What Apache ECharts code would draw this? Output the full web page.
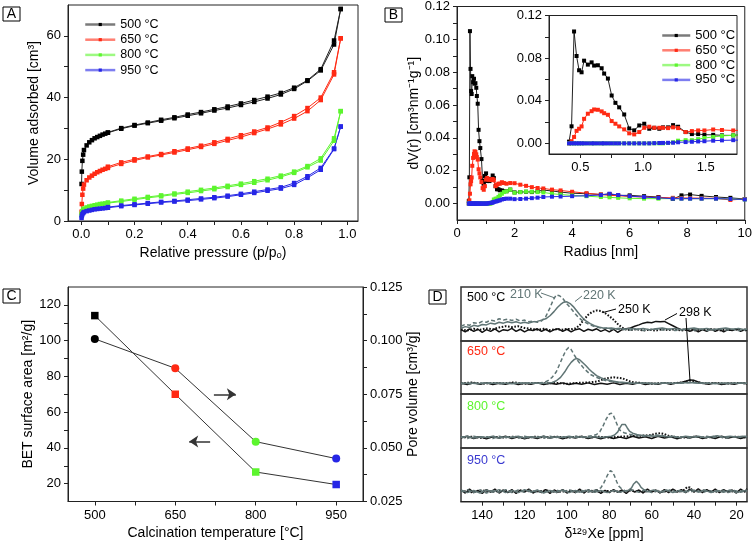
<!DOCTYPE html>
<html><head><meta charset="utf-8">
<script src="https://cdn.jsdelivr.net/npm/echarts@6/dist/echarts.min.js"></script>
<style>html,body{margin:0;padding:0;background:#fff}#c{width:755px;height:544px}</style>
</head><body><div id="c"></div>
<script>
// ---------- Panel A: N2 isotherms ----------
const tempNames = ['500 °C','650 °C','800 °C','950 °C'];
const tempColors = ['#000000','#ff2a14','#5cf52e','#2626e6'];
const lineColors = ['#222222','#ff2a14','#5cf52e','#2626e6'];
const pAds = [0.001,0.002,0.004,0.007,0.01,0.02,0.03,0.04,0.05,0.06,0.07,0.08,0.09,0.1,0.15,0.2,0.25,0.3,0.35,0.4,0.45,0.5,0.55,0.6,0.65,0.7,0.75,0.8,0.85,0.9,0.95,0.975];
const pDes = [0.975,0.95,0.9,0.85,0.8,0.75,0.7,0.65,0.6,0.55,0.5,0.45,0.4,0.35,0.3,0.25,0.2,0.15,0.1];
const ads500 = [12,16,19.5,21.5,23,24.5,25.5,26.2,26.8,27.2,27.6,28,28.3,28.6,29.9,30.9,31.7,32.5,33.3,34.1,34.9,35.8,36.6,37.6,38.6,39.7,41.0,42.8,45.4,48.8,57.2,68.7];
const des500 = [68.7,58.5,49.2,45.6,43.2,41.5,40.3,39.2,38.1,37.1,36.2,35.3,34.5,33.6,32.8,31.9,31.1,30.1,28.7];
const ads650 = [3,5.5,8.5,10.5,11.8,13.2,14.1,14.7,15.3,15.8,16.2,16.6,16.9,17.2,18.5,19.6,20.6,21.4,22.2,23.1,24.0,25.0,26.1,27.2,28.5,29.8,31.3,33.2,35.6,39.2,47.5,59.2];
const des650 = [59.2,48.2,40.0,36.6,34.0,32.0,30.3,29.0,27.8,26.6,25.5,24.4,23.5,22.6,21.7,20.9,20.0,19.0,17.6];
const ads800 = [2,2.6,3.2,3.7,4.0,4.4,4.7,4.9,5.1,5.3,5.5,5.6,5.7,5.8,6.3,6.9,7.5,8.0,8.6,9.1,9.7,10.3,11.0,11.7,12.4,13.2,14.3,15.6,17.4,19.6,26.0,35.6];
const des800 = [35.6,26.8,20.3,17.8,16.0,14.7,13.7,12.9,12.1,11.4,10.7,10.1,9.5,8.9,8.3,7.8,7.2,6.6,6.0];
const ads950 = [1,1.6,2.2,2.6,2.9,3.2,3.4,3.6,3.8,3.9,4.0,4.1,4.2,4.3,4.8,5.2,5.6,6.0,6.3,6.6,7.0,7.4,7.9,8.5,9.1,9.8,10.5,11.7,14.0,16.6,23.3,30.6];
const des950 = [30.6,23.5,17.2,14.5,12.3,10.9,10.2,9.5,8.8,8.2,7.7,7.3,6.9,6.5,6.2,5.8,5.4,5.0,4.5];
const xTicksA = [0,0.2,0.4,0.6,0.8,1.0];
const xMinorA = [0,0.1,0.2,0.3,0.4,0.5,0.6,0.7,0.8,0.9,1.0];
const yTicksA = [0,20,40,60];
const yMinorA = [0,10,20,30,40,50,60];

// ---------- Panel B: pore size distribution ----------
const rB = [0.41,0.43,0.45,0.47,0.49,0.51,0.53,0.56,0.59,0.61,
  0.64,0.67,0.69,0.72,0.75,0.78,0.81,0.85,0.89,0.93,
  0.97,1.01,1.05,1.09,1.13,1.16,1.2,1.24,1.28,1.34,
  1.39,1.44,1.49,1.56,1.63,1.72,1.85,2.0,2.2,2.4,
  2.6,2.8,3.0,3.3,3.6,4.0,4.5,5.0,5.3,5.6,
  6.0,6.5,7.0,7.5,7.8,8.1,8.5,9.0,9.5,10.0];
const vB500 = [0.0016,0.016,0.105,0.082,0.0686,0.0667,0.0776,0.0739,0.076,0.073,
  0.0733,0.0705,0.0655,0.0608,0.0449,0.038,0.0338,0.0271,0.014,0.0122,
  0.0168,0.0184,0.0137,0.0146,0.0137,0.015,0.015,0.0171,0.0156,0.0106,
  0.0087,0.0087,0.0081,0.008,0.0075,0.0075,0.0085,0.0068,0.007,0.0072,
  0.007,0.0075,0.0082,0.0077,0.007,0.0063,0.006,0.0055,0.0058,0.005,
  0.005,0.0045,0.004,0.0028,0.005,0.0055,0.0047,0.004,0.0035,0.0028];
const vB650 = [0,0.002,0.006,0.0117,0.0137,0.0159,0.023,0.0278,0.0302,0.0318,
  0.0315,0.030,0.0283,0.0268,0.0209,0.0184,0.0159,0.0131,0.0094,0.0084,
  0.0106,0.0146,0.0156,0.0146,0.0146,0.0146,0.0143,0.015,0.0143,0.0106,
  0.0115,0.0121,0.0121,0.013,0.0125,0.0121,0.0125,0.0124,0.0115,0.0108,
  0.010,0.0095,0.0092,0.0085,0.008,0.0072,0.0063,0.0055,0.005,0.0048,
  0.0043,0.004,0.0037,0.0035,0.0034,0.0034,0.0033,0.0032,0.0022,0.0028];
const vB800 = [0,0,0,0,0,0,0,0,0,0,
  0,0,0,0,0,0,0,0,0,0,
  0,0,0,0,0,0,0.0003,0.001,0.0025,0.003,
  0.003,0.004,0.005,0.006,0.007,0.0075,0.0085,0.0066,0.007,0.0073,
  0.0072,0.007,0.0068,0.006,0.0055,0.005,0.0045,0.004,0.0038,0.0035,
  0.0032,0.003,0.003,0.003,0.003,0.003,0.003,0.003,0.0028,0.0025];
const vB950 = [0,0,0,0,0,0,0,0,0,0,
  0,0,0,0,0,0,0,0,0,0,
  0,0,0,0.0002,0.0003,0.0004,0.0005,0.0006,0.001,0.0012,
  0.0015,0.0018,0.002,0.0025,0.0028,0.003,0.003,0.0027,0.0028,0.003,
  0.0033,0.0036,0.004,0.0042,0.0043,0.0045,0.0048,0.0052,0.006,0.0052,
  0.0045,0.004,0.0035,0.003,0.003,0.003,0.003,0.003,0.0028,0.0025];
const xTicksB = [0,2,4,6,8,10];
const xMinorB = [0,1,2,3,4,5,6,7,8,9,10];
const yTicksB = [0,0.02,0.04,0.06,0.08,0.10,0.12];
const yMinorB = [0,0.01,0.02,0.03,0.04,0.05,0.06,0.07,0.08,0.09,0.10,0.11,0.12];
const xTicksInset = [0.5,1.0,1.5];
const xMinorInset = [0.5,0.75,1.0,1.25,1.5];
const yTicksInset = [0,0.04,0.08,0.12];
const yMinorInset = [0,0.02,0.04,0.06,0.08,0.10,0.12];

// ---------- Panel C: BET & pore volume ----------
const tempC = [500,650,800,950];
const betC = [114,70,26.5,19.5];
const poreC = [0.1008,0.0871,0.0529,0.045];
const colorsC = ['#000000','#ff2a14','#5cf52e','#2626e6'];
const xTicksC = [500,650,800,950];
const xMinorC = [500,575,650,725,800,875,950];
const yTicksC = [20,40,60,80,100,120];
const yMinorC = [20,30,40,50,60,70,80,90,100,110,120];
const y2TicksC = [0.025,0.05,0.075,0.1,0.125];
const y2MinorC = [0.025,0.0375,0.05,0.0625,0.075,0.0875,0.1,0.1125,0.125];
const arrowRight = [[722,70],[763,70]];
const arrowLeft = [[715,43.5],[676,43.5]];

// ---------- Panel D: 129Xe NMR spectra [ppm, intensity] ----------
const dLabels = ['500 °C','650 °C','800 °C','950 °C'];
const dLabelColors = ['#000000','#ff2a14','#5cf52e','#3a3ad0'];
const xTicksD = [20,40,60,80,100,120,140];
const xMinorD = [20,30,40,50,60,70,80,90,100,110,120,130,140];
const d1_210 = [[150,0.1],[148,0.14],[146,0.12],[144,0.18],[142,0.16],[140,0.21],[138,0.19],[136,0.24],[134,0.22],[132,0.27],[130,0.24],[128,0.26],[126,0.23],[124,0.26],[122,0.22],[120,0.24],[118,0.2],[116,0.22],[114,0.19],[112,0.22],[110,0.32],[108,0.52],[106.5,0.7],[105,0.82],[103.5,0.8],[102,0.74],[100.5,0.64],[99,0.56],[97.5,0.47],[96,0.38],[94.5,0.3],[93,0.24],[91,0.18],[89,0.13],[87,0.09],[85,0.07],[83,0.05],[81,0.06],[79,0.03],[77,0.04],[75,0.02],[73,0.03],[70,0.01],[67,0.03],[64,0.0],[61,0.02],[58,0.04],[55,0.01],[52,0.03],[49,0.0],[46,0.02],[43,0.04],[40,0.01],[37,0.03],[34,0.0],[31,0.02],[28,0.04],[25,0.01],[22,0.03],[19,0.0],[16,0.02],[15,0.03]];
const d1_220 = [[150,0.05],[148,0.09],[146,0.07],[144,0.12],[142,0.1],[140,0.14],[138,0.13],[136,0.17],[134,0.15],[132,0.19],[130,0.17],[128,0.2],[126,0.18],[124,0.2],[122,0.17],[120,0.19],[118,0.17],[116,0.2],[114,0.21],[112,0.24],[110,0.27],[108,0.34],[106,0.44],[104.5,0.53],[103,0.6],[101.5,0.65],[100,0.66],[98.5,0.62],[97,0.55],[95.5,0.46],[94,0.37],[92.5,0.29],[91,0.22],[89,0.16],[87,0.11],[85,0.08],[83,0.06],[81,0.05],[79,0.06],[77,0.04],[75,0.05],[73,0.03],[70,0.05],[67,0.03],[64,0.05],[61,0.02],[58,0.04],[55,0.06],[52,0.03],[49,0.05],[46,0.02],[43,0.04],[40,0.06],[37,0.03],[34,0.05],[31,0.02],[28,0.04],[25,0.06],[22,0.03],[19,0.05],[16,0.02],[15,0.04]];
const d1_250 = [[150,0.03],[147,0.0],[144,0.04],[141,0.02],[138,0.05],[135,0.03],[132,0.07],[129,0.1],[126,0.08],[123,0.1],[120,0.06],[117,0.04],[114,0.02],[111,0.04],[108,0.01],[105,0.03],[102,0.02],[100,0.04],[98,0.03],[96,0.05],[94,0.12],[92,0.25],[90,0.36],[88,0.43],[86,0.46],[84,0.45],[82,0.4],[80,0.33],[78,0.25],[76,0.15],[74,0.07],[72,0.02],[70,0.01],[67,0.03],[64,0.0],[61,0.02],[58,0.0],[55,0.03],[52,0.01],[49,0.03],[46,0.0],[43,0.02],[40,0.0],[37,0.02],[34,0.01],[31,0.03],[28,0.0],[25,0.02],[22,0.01],[19,0.03],[16,0.0],[15,0.02]];
const d1_298 = [[150,0.02],[148,-0.03],[146,0.04],[144,-0.02],[142,0.03],[140,-0.04],[138,0.02],[136,-0.02],[134,0.04],[132,-0.03],[130,0.02],[128,0.0],[126,0.05],[124,-0.02],[122,0.03],[120,-0.03],[118,0.02],[116,0.0],[114,0.04],[112,-0.02],[110,0.03],[108,-0.03],[106,0.02],[104,0.04],[102,-0.02],[100,0.03],[98,-0.03],[96,0.02],[94,0.04],[92,-0.02],[90,0.03],[88,0.0],[86,0.04],[84,-0.02],[82,0.02],[80,-0.03],[78,0.03],[76,-0.04],[74,0.02],[72,0.04],[70,0.06],[68,0.1],[66,0.13],[64,0.17],[62,0.19],[60,0.18],[58,0.21],[56,0.2],[54,0.21],[52,0.16],[50,0.11],[48,0.06],[46,0.02],[44,0.03],[42,-0.02],[40,0.03],[38,-0.03],[36,0.02],[34,-0.02],[32,0.04],[30,-0.02],[28,0.03],[26,-0.03],[24,0.02],[22,0.0],[20,0.04],[18,-0.02],[16,0.03],[15,0.0]];
const d2_210 = [[150,0.02],[146,0.0],[142,0.02],[138,0.01],[134,0.02],[130,0.0],[126,0.02],[122,0.01],[118,0.02],[114,0.01],[111,0.03],[109,0.07],[107,0.15],[105,0.28],[103.5,0.45],[102,0.62],[100.5,0.78],[99.2,0.85],[98,0.8],[96.5,0.67],[95,0.55],[93.5,0.45],[92,0.36],[90.5,0.29],[89,0.22],[87,0.17],[85,0.13],[83,0.09],[81,0.06],[79,0.05],[77,0.04],[75,0.03],[72,0.02],[68,0.01],[64,0.02],[60,0.0],[55,0.02],[50,0.01],[45,0.02],[40,0.03],[35,0.01],[30,0.02],[25,0.0],[20,0.02],[15,0.01]];
const d2_220 = [[150,0.0],[146,0.02],[142,0.0],[138,0.02],[134,0.01],[130,0.02],[126,0.0],[122,0.02],[118,0.01],[114,0.02],[110,0.01],[107,0.03],[105,0.07],[103,0.15],[101,0.28],[99.5,0.4],[98,0.5],[96.5,0.57],[95.4,0.59],[94,0.56],[92.5,0.49],[91,0.42],[89.5,0.34],[88,0.27],[86,0.19],[84,0.14],[82,0.1],[80,0.08],[78,0.06],[76,0.04],[73,0.03],[70,0.02],[66,0.01],[62,0.02],[58,0.0],[54,0.02],[50,0.01],[46,0.02],[42,0.03],[38,0.01],[34,0.02],[30,0.0],[26,0.02],[22,0.01],[18,0.02],[15,0.01]];
const d2_250 = [[150,0.01],[145,0.03],[140,0.0],[135,0.02],[130,0.01],[125,0.03],[120,0.0],[115,0.02],[110,0.01],[105,0.02],[100,0.0],[95,0.02],[90,0.03],[86,0.05],[84,0.08],[82,0.12],[80,0.14],[78,0.15],[76,0.14],[74,0.13],[72,0.09],[70,0.05],[68,0.03],[65,0.02],[60,0.0],[55,0.02],[50,0.01],[46,0.03],[44,0.05],[42,0.07],[40,0.06],[38,0.03],[35,0.01],[30,0.02],[25,0.0],[20,0.02],[15,0.01]];
const d2_298 = [[150,0.01],[147,-0.02],[144,0.02],[141,-0.01],[138,0.02],[135,-0.02],[132,0.01],[129,-0.01],[126,0.02],[123,-0.02],[120,0.01],[117,-0.01],[114,0.02],[111,-0.02],[108,0.01],[105,-0.01],[102,0.02],[99,-0.02],[96,0.01],[93,-0.01],[90,0.02],[87,-0.02],[84,0.01],[81,-0.01],[78,0.02],[75,-0.02],[72,0.01],[69,-0.01],[66,0.02],[63,-0.02],[60,0.01],[57,-0.01],[54,0.02],[51,-0.01],[48,0.02],[46,0.03],[44,0.06],[42,0.09],[40,0.08],[38,0.04],[36,0.01],[33,-0.01],[30,0.02],[27,-0.02],[24,0.01],[21,-0.01],[18,0.02],[15,0.0]];
const d3_210 = [[150,0.02],[147,-0.02],[144,0.03],[141,0.0],[138,0.02],[135,-0.02],[132,0.03],[129,0.0],[126,0.02],[123,-0.01],[120,0.03],[117,0.0],[114,0.02],[111,-0.01],[108,0.03],[105,0.0],[102,0.02],[99,-0.01],[96,0.03],[93,0.01],[90,0.03],[88,0.04],[86,0.07],[84.5,0.13],[83,0.26],[81.5,0.42],[80,0.54],[79,0.56],[78,0.5],[77,0.38],[76,0.26],[75,0.17],[73,0.11],[71,0.08],[69,0.06],[67,0.04],[64,0.03],[61,0.05],[58,0.06],[55,0.04],[52,0.02],[49,0.0],[46,0.02],[43,-0.01],[40,0.02],[37,0.0],[34,0.03],[31,0.0],[28,0.02],[25,-0.01],[22,0.02],[19,0.0],[16,0.03],[15,0.01]];
const d3_220 = [[150,0.0],[147,0.03],[144,-0.01],[141,0.02],[138,0.0],[135,0.03],[132,-0.01],[129,0.02],[126,0.0],[123,0.03],[120,-0.01],[117,0.02],[114,0.0],[111,0.03],[108,-0.01],[105,0.02],[102,0.0],[99,0.03],[96,0.0],[93,0.02],[90,0.0],[87,0.02],[84,0.0],[81,0.02],[79,0.03],[77.5,0.06],[76,0.13],[75,0.22],[74,0.3],[73.3,0.33],[72.5,0.3],[71.5,0.22],[70.5,0.15],[69,0.1],[67,0.07],[65,0.05],[62,0.04],[59,0.03],[56,0.04],[53,0.02],[50,0.03],[47,0.0],[44,0.03],[41,0.01],[38,0.03],[35,0.0],[32,0.02],[29,0.04],[26,0.01],[23,0.03],[20,0.01],[17,0.03],[15,0.02]];
const d3_250 = [[150,0.0],[145,0.02],[140,-0.01],[135,0.02],[130,0.0],[125,0.02],[120,-0.01],[115,0.02],[110,0.0],[105,0.02],[100,0.0],[95,0.02],[90,0.0],[85,0.02],[80,0.0],[75,0.02],[70,0.03],[66,0.04],[62,0.05],[60,0.06],[58,0.09],[56,0.1],[54,0.08],[52,0.04],[50,0.02],[45,0.0],[40,0.02],[35,0.0],[30,0.02],[25,0.0],[20,0.02],[15,0.0]];
const d3_298 = [[150,0.0],[147,0.03],[144,-0.02],[141,0.02],[138,-0.03],[135,0.02],[132,-0.01],[129,0.03],[126,-0.02],[123,0.02],[120,-0.03],[117,0.01],[114,-0.02],[111,0.03],[108,-0.01],[105,0.02],[102,-0.03],[99,0.02],[96,-0.01],[93,0.03],[90,-0.02],[87,0.01],[84,-0.03],[81,0.02],[78,-0.02],[75,0.01],[72,-0.02],[69,0.03],[66,-0.01],[63,0.02],[60,-0.02],[57,0.03],[54,-0.01],[51,0.02],[48,-0.03],[45,0.02],[42,-0.01],[39,0.03],[36,-0.02],[33,0.01],[30,-0.02],[27,0.03],[24,-0.01],[21,0.02],[18,-0.02],[15,0.02]];
const d4_210 = [[150,-0.02],[147,0.04],[144,-0.03],[141,0.03],[138,-0.04],[135,0.02],[132,-0.02],[129,0.04],[126,-0.03],[123,0.03],[120,-0.02],[117,0.04],[114,-0.04],[111,0.02],[108,-0.03],[105,0.03],[102,-0.02],[99,0.04],[96,-0.03],[93,0.02],[90,-0.02],[88,0.01],[86,0.03],[84,0.08],[82.5,0.2],[81,0.36],[79.5,0.48],[78.5,0.45],[77.5,0.35],[76.5,0.22],[75.5,0.12],[74,0.05],[72,0.0],[69,0.03],[66,-0.02],[63,0.03],[60,-0.03],[57,0.02],[54,-0.02],[51,0.04],[48,-0.03],[45,0.02],[42,-0.02],[39,0.03],[36,-0.03],[33,0.02],[30,-0.02],[27,0.04],[24,-0.03],[21,0.02],[18,-0.02],[15,0.03]];
const d4_220 = [[150,0.03],[147,-0.03],[144,0.02],[141,-0.04],[138,0.03],[135,-0.02],[132,0.04],[129,-0.03],[126,0.02],[123,-0.03],[120,0.04],[117,-0.02],[114,0.03],[111,-0.04],[108,0.02],[105,-0.02],[102,0.03],[99,-0.03],[96,0.02],[93,-0.02],[90,0.03],[87,-0.02],[84,0.02],[81,-0.03],[78,0.02],[75,-0.02],[73,0.01],[71,0.02],[69.5,0.08],[68.5,0.17],[67.2,0.23],[66,0.17],[65,0.09],[63.5,0.03],[62,-0.01],[59,0.03],[56,-0.02],[53,0.03],[50,-0.03],[47,0.02],[44,-0.02],[41,0.04],[38,-0.02],[35,0.03],[32,-0.03],[29,0.02],[26,-0.02],[23,0.03],[20,-0.03],[17,0.02],[15,0.0]];
const d4_250 = [[150,0.01],[145,-0.02],[140,0.02],[135,-0.01],[130,0.02],[125,-0.02],[120,0.01],[115,-0.01],[110,0.02],[105,-0.02],[100,0.01],[95,-0.01],[90,0.02],[85,-0.01],[80,0.01],[75,-0.01],[70,0.02],[65,-0.01],[60,0.01],[55,-0.01],[50,0.02],[46,0.0],[44.5,0.04],[43.2,0.1],[42,0.09],[41,0.03],[39,0.0],[35,0.02],[30,-0.01],[25,0.01],[20,-0.01],[15,0.01]];
const d4_298 = [[150,0.03],[148,-0.04],[146,0.05],[144,-0.03],[142,0.02],[140,-0.05],[138,0.04],[136,-0.02],[134,0.05],[132,-0.04],[130,0.02],[128,-0.03],[126,0.04],[124,-0.05],[122,0.03],[120,-0.02],[118,0.05],[116,-0.04],[114,0.02],[112,-0.03],[110,0.04],[108,-0.05],[106,0.03],[104,-0.02],[102,0.04],[100,-0.04],[98,0.02],[96,-0.03],[94,0.05],[92,-0.04],[90,0.03],[88,-0.02],[86,0.04],[84,-0.05],[82,0.02],[80,-0.03],[78,0.04],[76,-0.02],[74,0.03],[72,-0.05],[70,0.04],[68,-0.02],[66,0.03],[64,-0.04],[62,0.05],[60,-0.02],[58,0.03],[56,-0.04],[54,0.04],[52,-0.03],[50,0.05],[48,-0.02],[46,0.04],[44,-0.03],[42,0.05],[40,-0.02],[38,0.06],[36,-0.03],[34,0.04],[32,-0.02],[30,0.05],[28,-0.03],[26,0.04],[24,-0.02],[22,0.03],[20,-0.04],[18,0.05],[16,-0.02],[15,0.06]];

// ---------- build ----------
const FONT = 'Liberation Sans, Arial, sans-serif';
const AX = '#222';
function pairs(xs, ys){ return xs.map((x,i)=>[x, ys[i]]); }
function vAxis(grid, min, max, labels, ticks, fmt, extra){
  return Object.assign({
    type:'value', gridIndex:grid, min:min, max:max,
    axisLine:{show:true, onZero:false, lineStyle:{color:AX,width:1}},
    axisTick:{show:true, inside:false, length:4, customValues:ticks, lineStyle:{color:AX,width:1}},
    axisLabel:{show:true, customValues:labels, color:'#000', fontFamily:FONT, fontSize:13, margin:7, formatter:fmt},
    splitLine:{show:false},
    nameLocation:'middle',
    nameTextStyle:{color:'#000', fontFamily:FONT, fontSize:14}
  }, extra||{});
}
const f0 = v=>String(Math.round(v));
const f1 = v=>Number(v).toFixed(1);
const f2 = v=>Number(v).toFixed(2);
const f3 = v=>Number(v).toFixed(3);

const grids = [
  {left:68, top:5, width:290, height:216, show:true, borderColor:AX, borderWidth:1},
  {left:457, top:5, width:290, height:215, show:true, borderColor:AX, borderWidth:1},
  {left:549, top:15.5, width:188, height:138.5, show:true, borderColor:AX, borderWidth:1, backgroundColor:'#fff'},
  {left:68, top:287, width:295, height:214.5, show:true, borderColor:AX, borderWidth:1},
  {left:461, top:287, width:286, height:54, show:true, borderColor:'#333', borderWidth:1.5},
  {left:461, top:341, width:286, height:53, show:true, borderColor:'#333', borderWidth:1.5},
  {left:461, top:394, width:286, height:54, show:true, borderColor:'#333', borderWidth:1.5},
  {left:461, top:448, width:286, height:53.7, show:true, borderColor:'#333', borderWidth:1.5}
];

const xAxes = [
  vAxis(0,-0.05,1.04,xTicksA,xMinorA,f1,{name:'Relative pressure (p/pₒ)', nameGap:25}),
  vAxis(1,0,10,xTicksB,xMinorB,f0,{name:'Radius [nm]', nameGap:25}),
  vAxis(2,0.25,1.75,xTicksInset,xMinorInset,f1),
  vAxis(3,450,1000,xTicksC,xMinorC,f0,{name:'Calcination temperature [°C]', nameGap:25}),
];
for (let i=0;i<3;i++) xAxes.push({type:'value', gridIndex:4+i, min:15, max:150, inverse:true, show:false});
xAxes.push(vAxis(7,15,150,xTicksD,xMinorD,f0,{inverse:true, name:'δ¹²⁹Xe [ppm]', nameGap:25}));

const yAxes = [
  vAxis(0,0,70,yTicksA,yMinorA,f0,{name:'Volume adsorbed [cm³]', nameGap:27, nameRotate:90}),
  vAxis(1,-0.01,0.12,yTicksB,yMinorB,f2,{name:'dV(r) [cm³nm⁻¹g⁻¹]', nameGap:34, nameRotate:90}),
  vAxis(2,-0.01,0.12,yTicksInset,yMinorInset,f2),
  vAxis(3,10,130,yTicksC,yMinorC,f0,{name:'BET surface area [m²/g]', nameGap:28, nameRotate:90}),
  vAxis(3,0.025,0.125,y2TicksC,y2MinorC,f3,{position:'right', name:'Pore volume [cm³/g]', nameGap:40, nameRotate:90}),
];
for (let i=0;i<4;i++) yAxes.push({type:'value', gridIndex:4+i, min:-0.24, max:1, show:false});

const series = [];
const adsA = [ads500, ads650, ads800, ads950];
const desA = [des500, des650, des800, des950];
function lineS(name, data, i, xi, yi, size){
  return {type:'line', name:name, data:data, xAxisIndex:xi, yAxisIndex:yi,
    symbol:'rect', symbolSize:size, showSymbol:true, clip:true,
    lineStyle:{color:lineColors[i], width:1}, itemStyle:{color:tempColors[i]}, z:3};
}
for (let i=0;i<4;i++){
  series.push(lineS(tempNames[i], pairs(pAds, adsA[i]), i, 0, 0, 4.5));
  series.push(lineS(tempNames[i], pairs(pDes, desA[i]), i, 0, 0, 4.5));
}
const vB = [vB500, vB650, vB800, vB950];
for (let i=0;i<4;i++) series.push(lineS(tempNames[i], pairs(rB, vB[i]), i, 1, 1, 4));
for (let i=0;i<4;i++) series.push(lineS(tempNames[i], pairs(rB, vB[i]), i, 2, 2, 4));

series.push({type:'line', name:'BET', xAxisIndex:3, yAxisIndex:3,
  data: tempC.map((t,i)=>({value:[t, betC[i]], itemStyle:{color:colorsC[i]}})),
  symbol:'rect', symbolSize:7.5, lineStyle:{color:'#333', width:1},
  markLine:{silent:true, symbol:['none','arrow'], symbolSize:9, label:{show:false},
    lineStyle:{color:'#333', width:1.5, type:'solid'},
    data:[ [{coord:arrowRight[0]},{coord:arrowRight[1]}], [{coord:arrowLeft[0]},{coord:arrowLeft[1]}] ]}
});
series.push({type:'line', name:'Pore volume', xAxisIndex:3, yAxisIndex:4,
  data: tempC.map((t,i)=>({value:[t, poreC[i]], itemStyle:{color:colorsC[i]}})),
  symbol:'circle', symbolSize:8, lineStyle:{color:'#333', width:1}});

const dPanels = [
  [d1_298, d1_250, d1_210, d1_220],
  [d2_298, d2_250, d2_210, d2_220],
  [d3_298, d3_250, d3_210, d3_220],
  [d4_298, d4_250, d4_210, d4_220]
];
const dStyles = [
  {color:'#111', width:1.5, type:'solid'},
  {color:'#111', width:2, type:[1.6,1.6]},
  {color:'#607575', width:1.5, type:[4,2.5]},
  {color:'#607575', width:1.5, type:'solid'}
];
const dNames = ['298 K','250 K','210 K','220 K'];
dPanels.forEach((arr,p)=>{
  arr.forEach((d,k)=>{
    series.push({type:'line', name:dLabels[p]+' '+dNames[k], data:d, xAxisIndex:4+p, yAxisIndex:5+p,
      showSymbol:false, symbol:'none', lineStyle:Object.assign({}, dStyles[k]), clip:true, z:3});
  });
});

function txt(t, x, y, color, size, align){
  return {type:'text', x:x, y:y, z:10, style:{text:t, fill:color, font:size+'px '+FONT,
    align:align||'left', textAlign:align||'left', verticalAlign:'middle', textVerticalAlign:'middle'}};
}
function box(letter, x, y){
  return [{type:'rect', z:10, shape:{x:x, y:y, width:17, height:14}, style:{fill:'#fff', stroke:'#000', lineWidth:1}},
          txt(letter, x+8.5, y+7.5, '#000', 14, 'center')];
}
function seg(x1,y1,x2,y2,color){
  return {type:'line', z:10, shape:{x1:x1,y1:y1,x2:x2,y2:y2}, style:{stroke:color, lineWidth:1}};
}
const gray = '#607575';
const graphics = [].concat(
  box('A',3,7), box('B',385,8), box('C',3,289), box('D',429,290),
  [txt(dLabels[0],467,298,dLabelColors[0],12.5), txt(dLabels[1],467,352,dLabelColors[1],12.5),
   txt(dLabels[2],467,406.5,dLabelColors[2],12.5), txt(dLabels[3],467,460.5,dLabelColors[3],12.5),
   txt('210 K',510,295,gray,12.5), seg(541,293,555,298,gray),
   txt('220 K',583,296,gray,12.5), seg(575,301.5,582,296,gray),
   txt('250 K',618,310,'#000',12.5), seg(603,312.5,616,309,'#000'),
   txt('298 K',679,313,'#000',12.5), seg(665,320,677,313.5,'#000'),
   seg(686,318,690,381,'#000')]
);

const option = {
  animation:false, backgroundColor:'#fff',
  textStyle:{fontFamily:FONT},
  grid:grids, xAxis:xAxes, yAxis:yAxes, series:series, graphic:{elements:graphics},
  legend:[
    {left:79, top:13, orient:'vertical', itemWidth:30, itemHeight:4, itemGap:2.2, data:tempNames,
      selectedMode:false, lineStyle:{width:2.5, opacity:0.6},
      textStyle:{color:'#000', fontFamily:FONT, fontSize:12.5}},
    {left:656, top:24, orient:'vertical', itemWidth:28, itemHeight:4, itemGap:1.8, data:tempNames,
      selectedMode:false, lineStyle:{width:2.5, opacity:0.6},
      textStyle:{color:'#000', fontFamily:FONT, fontSize:13}}
  ]
};
const chart = echarts.init(document.getElementById('c'), null, {renderer:'canvas'});
chart.setOption(option);
</script></body></html>
